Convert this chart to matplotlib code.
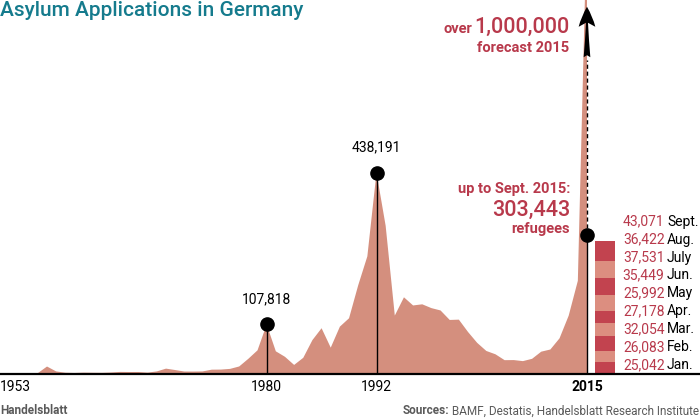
import matplotlib
matplotlib.use("Agg")
import matplotlib.pyplot as plt
import numpy as np

plt.rcParams['font.family'] = ['Roboto', 'DejaVu Sans']

# ---------------- data ----------------
years = list(range(1953, 2016))
applications = [
    1906, 2174, 1926, 16284, 5622, 2785, 2267, 2980, 2722, 2550,
    3238, 4542, 4337, 4370, 2992, 5608, 11664, 8645, 5388, 5289,
    5595, 9424, 9627, 11123, 16410, 33136, 51493, 107818, 49391, 37423,
    19737, 35278, 73832, 99650, 57379, 103076, 121318, 193063, 256112, 438191,
    322599, 127210, 166951, 149193, 151700, 143429, 138319, 117648, 118306, 91471,
    67848, 50152, 42908, 30100, 30303, 28018, 33033, 48589, 53347, 77651,
    127023, 202834, 1000000,
]
highlight_years = [1980, 1992]
highlight_labels = ["107,818", "438,191"]
ytd_2015 = 303443
months = ["Jan.", "Feb.", "Mar.", "Apr.", "May", "Jun.", "July", "Aug.", "Sept."]
monthly_2015 = [25042, 26083, 32054, 27178, 25992, 35449, 37531, 36422, 43071]
tick_years = [1953, 1980, 1992, 2015]

# ---------------- style ----------------
AREA = "#d48f7e"
DARK = "#c2434f"
LIGHT = "#dc8e80"
RED = "#b8394b"
TEAL = "#157b8d"
GRAY = "#5a5a5a"

W, H = 700, 420
fig = plt.figure(figsize=(7, 4.2), dpi=100)
base_px = 374
ax = fig.add_axes([0, (H - base_px) / H, 1, base_px / H])
px_per_year = 9.152
x0 = 1992 - 376.5 / px_per_year
ax.set_xlim(x0, x0 + W / px_per_year)
px_per_k = 0.4594
ax.set_ylim(0, base_px / px_per_k * 1000)
ax.axis("off")


def fp(x, y):
    """pixel -> figure fraction"""
    return x / W, 1 - y / H


ax.fill_between(years, applications, 0, color=AREA, lw=0, zorder=1)

# stacked monthly bar
bar_x = 2015 + 18 / px_per_year
bar_w = 20 / px_per_year
bottom = 0
for i, v in enumerate(monthly_2015):
    ax.bar(bar_x, v, bar_w, bottom=bottom, color=DARK if i % 2 == 0 else LIGHT,
           lw=0, zorder=2)
    bottom += v

# baseline
ax.axhline(0, color="black", lw=1.6, zorder=5, clip_on=False)

# highlight markers
for yr, lab in zip(highlight_years, highlight_labels):
    val = applications[years.index(yr)]
    ax.plot([yr, yr], [0, val], color="black", lw=1.0, zorder=4)
    ax.plot(yr, val, "o", color="black", ms=9.5, zorder=6)
    ax.annotate(lab, (yr, val), xytext=(0, 13), textcoords="offset points",
                ha="center", va="bottom", fontsize=10, color="black")

# 2015 markers
ax.plot([2015, 2015], [0, ytd_2015], color="black", lw=1.0, zorder=4)
ax.plot(2015, ytd_2015, "o", color="black", ms=9.5, zorder=6)
top_shaft = (base_px - 60) / px_per_k * 1000
tip = (base_px - 4) / px_per_k * 1000
ax.plot([2015, 2015], [ytd_2015, top_shaft], color="black", lw=1.0,
        ls=(0, (3, 2)), zorder=4)
ax.annotate("", xy=(2015, tip), xytext=(2015, top_shaft),
            arrowprops=dict(arrowstyle="fancy,head_length=0.9,head_width=0.75,tail_width=0.3",
                            color="black", lw=0, mutation_scale=16),
            zorder=7)

# tick labels
for yr in tick_years:
    if yr == tick_years[0]:
        fig.text(*fp(0, 387), str(yr), ha="left", va="center", fontsize=10)
    else:
        xp = (yr - x0) * px_per_year
        fig.text(*fp(xp, 387), str(yr), ha="center", va="center", fontsize=10,
                 fontweight="bold" if yr == 2015 else "normal")

# annotations 2015
fig.text(*fp(570, 189), "up to Sept. 2015:", ha="right", va="center",
         fontsize=10.5, color=RED, fontweight="semibold")
fig.text(*fp(570, 210), f"{ytd_2015:,}", ha="right", va="center",
         fontsize=15.5, color=RED, fontweight="medium")
fig.text(*fp(570, 229), "refugees", ha="right", va="center",
         fontsize=10.5, color=RED, fontweight="semibold")

fig.text(*fp(569, 27), "1,000,000", ha="right", va="center",
         fontsize=15.5, color=RED, fontweight="medium")
fig.text(*fp(472, 29), "over", ha="right", va="center",
         fontsize=10.5, color=RED, fontweight="semibold")
fig.text(*fp(569, 48), "forecast 2015", ha="right", va="center",
         fontsize=10.5, color=RED, fontweight="semibold")

# month labels
ys = np.linspace(365, 221.7, len(months))
for m, v, yp in zip(months, monthly_2015, ys):
    fig.text(*fp(664.5, yp), f"{v:,}", ha="right", va="center", fontsize=10,
             color=RED)
    fig.text(*fp(667, yp), m, ha="left", va="center", fontsize=10,
             color="black")

# title & footer
fig.text(*fp(0, 11), "Asylum Applications in Germany", ha="left", va="center",
         fontsize=15, color=TEAL, fontweight="medium")
fig.text(*fp(0, 411), "Handelsblatt", ha="left", va="center", fontsize=8.5,
         color=GRAY, fontweight="bold")
src = fig.text(*fp(699, 411), " BAMF, Destatis, Handelsblatt Research Institute",
               ha="right", va="center", fontsize=8.5, color=GRAY)
renderer = fig.canvas.get_renderer()
bb = src.get_window_extent(renderer)
fig.text(bb.x0 / W, 1 - 411 / H, "Sources:", ha="right", va="center",
         fontsize=8.5, color=GRAY, fontweight="bold")

fig.savefig("out.png", dpi=100)
